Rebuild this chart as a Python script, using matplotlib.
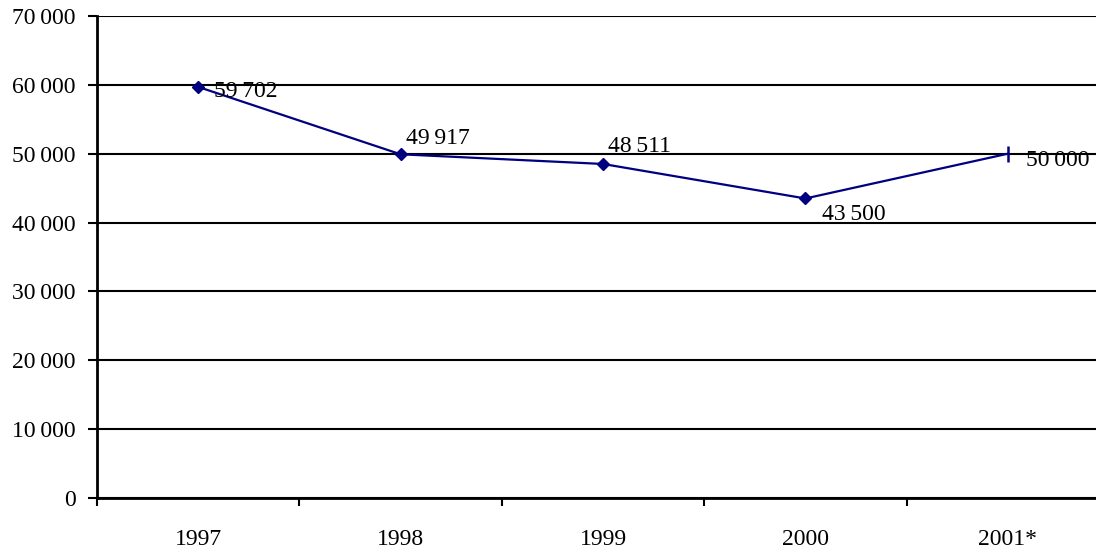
import matplotlib.pyplot as plt
from matplotlib.ticker import FuncFormatter, FixedLocator

# yearly totals, last year is an estimate
years = ['1997', '1998', '1999', '2000', '2001*']
values = [59702, 49917, 48511, 43500, 50000]
markers = ['D', 'D', 'D', 'D', '|']
# label offsets in pixels (dx, dy) from each point
label_offsets = [(16, -5), (5, 16), (5, 17), (17, -16), (18, -7)]

plt.rcParams['font.family'] = ['Liberation Serif', 'DejaVu Serif']
plt.rcParams['font.size'] = 17

def fmt(v):
    return f"{int(v):,}".replace(',', '\u2009')

fig = plt.figure(figsize=(10.96, 5.51), dpi=100)
ax = fig.add_axes([97 / 1096, 1 - 498 / 551, 1012 / 1096, 482 / 551])

x = list(range(len(years)))
navy = '#000080'
ax.plot(x, values, color=navy, lw=1.6, zorder=3)
for xi, v, m in zip(x, values, markers):
    if m == 'D':
        ax.plot(xi, v, marker='D', ms=6.5, color=navy, zorder=4)
    else:
        ax.plot(xi, v, marker='|', ms=11, mew=1.8, color=navy, zorder=4)

for xi, v, (dx, dy) in zip(x, values, label_offsets):
    ax.annotate(fmt(v), (xi, v), xytext=(dx, dy), textcoords='offset pixels',
                ha='left', va='center', fontsize=17, color='black', zorder=5)

ax.set_ylim(0, 70000)
ax.set_xlim(-0.5, len(years) - 0.5)
ax.set_yticks(range(0, 70001, 10000))
ax.yaxis.set_major_formatter(FuncFormatter(lambda v, p: fmt(v)))
ax.yaxis.grid(True, color='black', lw=1.5)
ax.set_axisbelow(True)

# tick marks between categories, labels centred under each
ax.xaxis.set_major_locator(FixedLocator([i - 0.5 for i in range(len(years) + 1)]))
ax.xaxis.set_minor_locator(FixedLocator(x))
ax.set_xticklabels([])
ax.set_xticklabels(years, minor=True)
ax.tick_params(axis='x', which='major', direction='out', length=6, width=1.5)
ax.tick_params(axis='x', which='minor', length=0, pad=22, labelsize=17)
ax.tick_params(axis='y', direction='out', length=6.5, width=1.5, pad=9, labelsize=17)

for s in ['top', 'right']:
    ax.spines[s].set_visible(False)
ax.spines['left'].set_linewidth(2)
ax.spines['bottom'].set_linewidth(2)

fig.savefig('out.png', dpi=100)
